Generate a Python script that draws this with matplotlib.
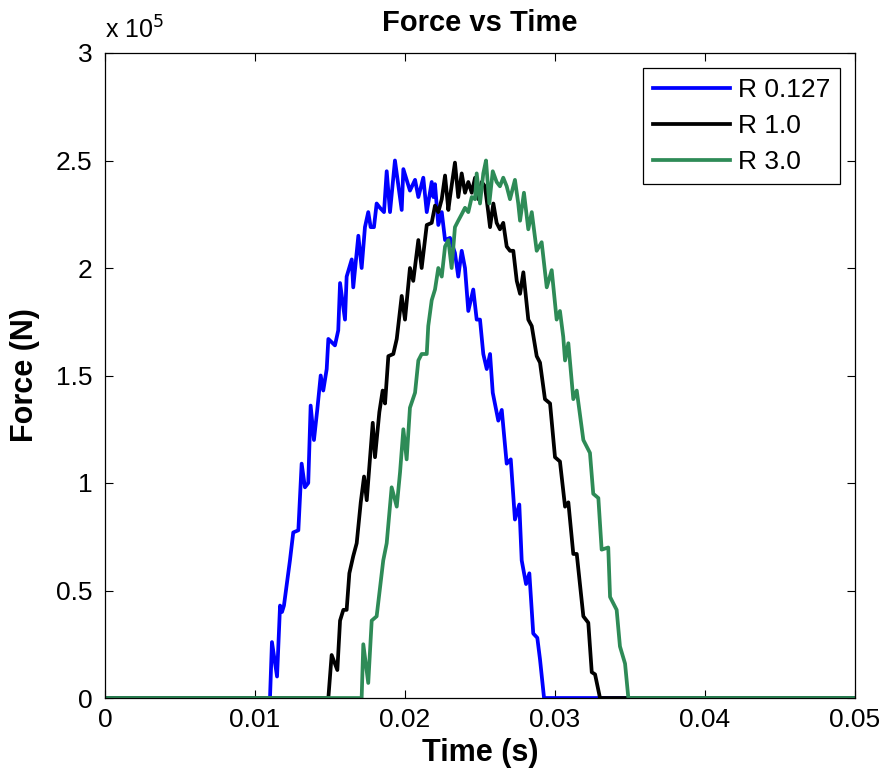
import matplotlib.pyplot as plt
from matplotlib.ticker import FuncFormatter

plt.rcParams['font.family'] = ['Liberation Sans', 'DejaVu Sans']

# time in ms, force in 1e5 N
t_blue = [0, 11.00, 11.13, 11.47, 11.67, 11.80, 11.93, 12.33, 12.55, 12.89, 13.11, 13.33, 13.55, 13.71,
          13.93, 14.15, 14.38, 14.55, 14.78, 14.89, 15.33, 15.55, 15.67, 16.00, 16.11, 16.45, 16.55,
          16.89, 17.11, 17.33, 17.55, 17.71, 17.93, 18.11, 18.33, 18.60, 18.78, 19.00, 19.33, 19.78,
          19.89, 20.11, 20.33, 20.67, 20.89, 21.22, 21.45, 21.78, 21.89, 22.00, 22.22, 22.45, 22.67,
          23.00, 23.33, 23.55, 23.78, 24.00, 24.22, 24.55, 24.78, 25.00, 25.22, 25.45, 25.67, 25.85,
          26.22, 26.45, 26.78, 27.05, 27.33, 27.62, 27.78, 28.07, 28.29, 28.55, 28.82, 29.00, 29.27, 50]
f_blue = [0, 0, 0.26, 0.10, 0.43, 0.40, 0.43, 0.64, 0.77, 0.78, 1.09, 0.98, 1.00, 1.36,
          1.20, 1.34, 1.50, 1.43, 1.53, 1.67, 1.64, 1.71, 1.93, 1.76, 1.96, 2.04, 1.91,
          2.15, 2.00, 2.19, 2.26, 2.19, 2.19, 2.30, 2.28, 2.26, 2.45, 2.26, 2.50, 2.27,
          2.46, 2.41, 2.36, 2.41, 2.33, 2.42, 2.26, 2.40, 2.33, 2.39, 2.20, 2.26, 2.13,
          2.14, 2.07, 1.96, 2.08, 2.00, 1.80, 1.90, 1.76, 1.76, 1.60, 1.53, 1.60, 1.42,
          1.29, 1.34, 1.09, 1.11, 0.83, 0.90, 0.64, 0.53, 0.58, 0.30, 0.28, 0.18, 0, 0]

t_black = [0, 14.89, 15.11, 15.49, 15.67, 15.89, 16.11, 16.29, 16.55, 16.78, 17.05, 17.27, 17.45,
           17.85, 18.00, 18.29, 18.51, 18.67, 18.89, 19.22, 19.45, 19.78, 20.00, 20.33, 20.55, 20.89,
           21.11, 21.45, 21.78, 22.00, 22.22, 22.45, 22.67, 22.89, 23.00, 23.33, 23.55, 23.78, 24.00,
           24.22, 24.45, 24.67, 24.89, 25.11, 25.33, 25.55, 25.67, 25.89, 26.11, 26.33, 26.55, 26.78,
           27.00, 27.22, 27.45, 27.67, 27.89, 28.22, 28.45, 28.78, 29.00, 29.33, 29.67, 30.00, 30.33,
           30.67, 30.89, 31.22, 31.45, 31.89, 32.22, 32.45, 32.67, 33.00, 50]
f_black = [0, 0, 0.20, 0.13, 0.36, 0.41, 0.41, 0.58, 0.66, 0.72, 0.91, 1.03, 0.92,
           1.28, 1.12, 1.33, 1.43, 1.37, 1.59, 1.60, 1.67, 1.87, 1.76, 2.00, 1.94, 2.13,
           2.00, 2.20, 2.21, 2.29, 2.26, 2.32, 2.43, 2.27, 2.33, 2.49, 2.33, 2.44, 2.35,
           2.40, 2.35, 2.42, 2.32, 2.40, 2.38, 2.26, 2.19, 2.30, 2.21, 2.18, 2.21, 2.10,
           2.08, 2.08, 1.94, 1.88, 1.98, 1.76, 1.73, 1.59, 1.56, 1.39, 1.37, 1.12, 1.10,
           0.89, 0.91, 0.67, 0.67, 0.38, 0.35, 0.12, 0.11, 0, 0]

t_green = [0, 17.11, 17.22, 17.55, 17.78, 18.11, 18.55, 18.78, 19.11, 19.45, 19.67, 19.89, 20.11,
           20.33, 20.67, 20.89, 21.11, 21.45, 21.55, 21.78, 22.00, 22.22, 22.45, 22.67, 22.89, 23.11,
           23.33, 23.55, 23.78, 24.00, 24.22, 24.45, 24.67, 24.78, 25.00, 25.22, 25.40, 25.62, 25.85,
           26.11, 26.33, 26.55, 26.78, 27.00, 27.33, 27.55, 27.67, 27.93, 28.22, 28.45, 28.78, 29.11,
           29.45, 29.78, 30.11, 30.33, 30.55, 30.67, 30.89, 31.22, 31.45, 31.89, 32.33, 32.55, 32.89,
           33.11, 33.55, 33.67, 34.11, 34.33, 34.67, 34.89, 50]
f_green = [0, 0, 0.25, 0.07, 0.36, 0.38, 0.64, 0.72, 0.98, 0.89, 1.05, 1.25, 1.11,
           1.35, 1.42, 1.57, 1.60, 1.60, 1.73, 1.85, 1.90, 2.00, 1.96, 2.10, 2.13, 2.00,
           2.19, 2.22, 2.25, 2.28, 2.26, 2.33, 2.32, 2.44, 2.30, 2.44, 2.50, 2.30, 2.45,
           2.40, 2.38, 2.42, 2.38, 2.32, 2.41, 2.30, 2.22, 2.35, 2.18, 2.26, 2.08, 2.12,
           1.91, 1.99, 1.76, 1.80, 1.68, 1.57, 1.65, 1.39, 1.43, 1.20, 1.14, 0.95, 0.93,
           0.69, 0.70, 0.47, 0.41, 0.24, 0.16, 0, 0]

series = [(t_blue, f_blue, 'R 0.127', '#0000ff'),
          (t_black, f_black, 'R 1.0', '#000000'),
          (t_green, f_green, 'R 3.0', '#2e8b57')]

fig = plt.figure(figsize=(8.85, 7.75), dpi=100)
ax = fig.add_axes([105/885, 1-698/775, 750/885, 645/775])

for t, f, lab, col in series:
    ax.plot([v/1000 for v in t], [v*1e5 for v in f], color=col, lw=2.7, label=lab)

ax.set_xlim(0, 0.05)
ax.set_ylim(0, 3e5)
ax.set_xticks([0, 0.01, 0.02, 0.03, 0.04, 0.05])
ax.set_xticklabels(['0', '0.01', '0.02', '0.03', '0.04', '0.05'])
ax.set_yticks([i*0.5e5 for i in range(7)])
ax.yaxis.set_major_formatter(FuncFormatter(lambda v, p: '%g' % (v/1e5)))
ax.tick_params(direction='in', top=True, right=True, labelsize=19, length=6, width=0.8)
ax.tick_params(axis='x', pad=7)
ax.tick_params(axis='y', pad=9)
for s in ax.spines.values():
    s.set_linewidth(0.9)

ax.text(0, 1.015, r'x 10$^5$', transform=ax.transAxes, fontsize=18, ha='left', va='bottom')
ax.set_title('Force vs Time', fontsize=21, fontweight='bold', pad=16)
ax.set_xlabel('Time (s)', fontsize=22, fontweight='bold')
ax.set_ylabel('Force (N)', fontsize=22, fontweight='bold')
ax.xaxis.set_label_coords(0.5, -0.062)
ax.yaxis.set_label_coords(-0.086, 0.5)

leg = ax.legend(loc='upper right', fontsize=19, fancybox=False, edgecolor='black',
                framealpha=1, handlelength=2.9, borderaxespad=0.55, labelspacing=0.45,
                handletextpad=0.3, borderpad=0.4)
leg.get_frame().set_linewidth(0.9)

fig.savefig('out.png', dpi=100)
